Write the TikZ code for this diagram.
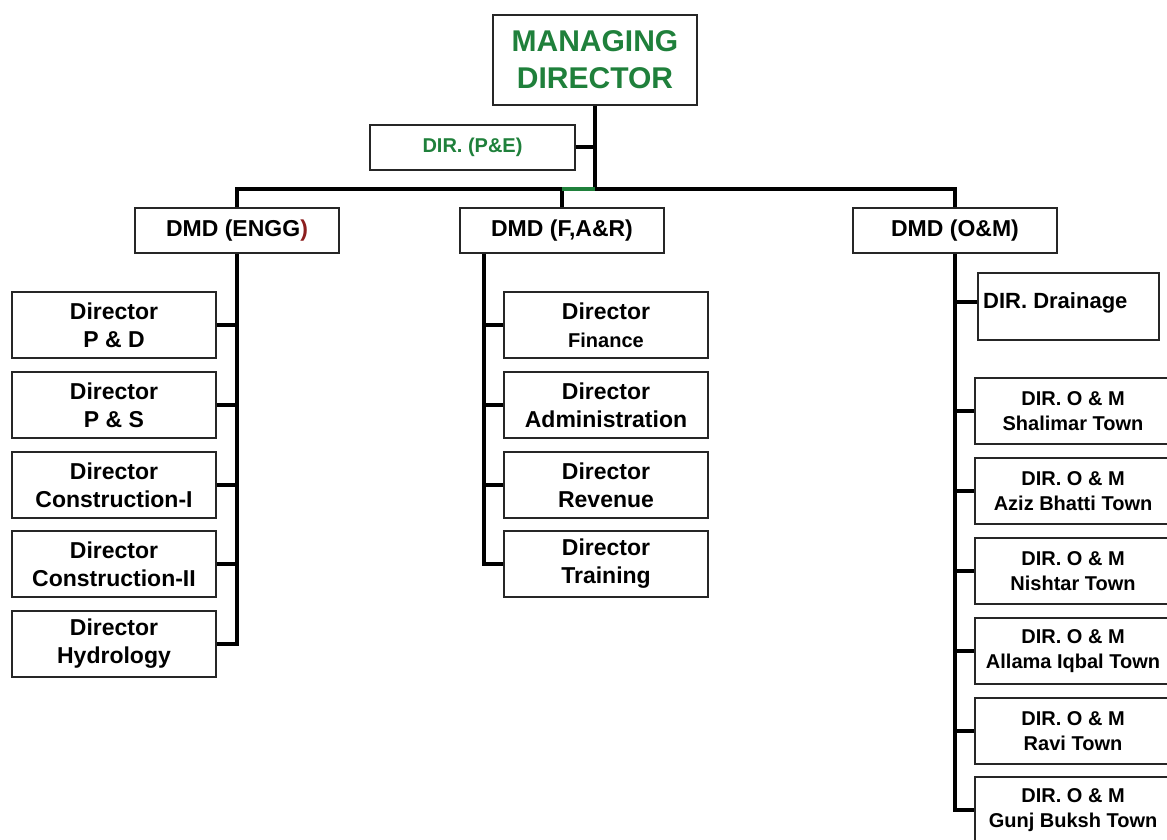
\documentclass[tikz,border=0pt]{standalone}
\usepackage{fontspec}
\setmainfont{Liberation Sans}
\definecolor{mdgreen}{RGB}{31,128,59}
\definecolor{dred}{RGB}{140,30,30}
\begin{document}
\begin{tikzpicture}[x=1pt,y=-1pt,
  box/.style={draw=black!85,line width=1.2pt,inner sep=0pt,align=center,font=\bfseries\fontsize{23}{28}\selectfont},
  lbox/.style={box,minimum width=204pt,minimum height=66pt},
  rbox/.style={box,minimum width=196pt,minimum height=66pt,font=\bfseries\fontsize{20}{25}\selectfont},
  dbox/.style={box,minimum width=204pt,minimum height=45pt},
  conn/.style={line width=4pt,black}]
\useasboundingbox (0,0) rectangle (1167,840);
\clip (0,0) rectangle (1167,840);
% top
\node[box,minimum width=204pt,minimum height=90pt,text=mdgreen,font=\bfseries\fontsize{30}{37}\selectfont] (md) at (595,60) {MANAGING\\DIRECTOR};
\node[box,minimum width=205pt,minimum height=45pt,text=mdgreen,font=\bfseries\fontsize{20}{24}\selectfont] (pe) at (472.5,147.5) {DIR. (P\&E)};
% DMDs
\node[dbox] (engg) at (237,230.5) {DMD (ENGG\textcolor{dred}{)}};
\node[dbox] (far) at (562,230.5) {DMD (F,A\&R)};
\node[dbox] (om) at (955,230.5) {DMD (O\&M)};
% left column
\node[lbox] (e1) at (114,325) {Director\\P \& D};
\node[lbox] (e2) at (114,405) {Director\\P \& S};
\node[lbox] (e3) at (114,485) {Director\\Construction-I};
\node[lbox] (e4) at (114,564) {Director\\Construction-II};
\node[lbox] (e5) at (114,644) {Director\\Hydrology};
% middle column
\node[lbox] (f1) at (606,325) {Director\\{\fontsize{20}{26}\selectfont Finance}};
\node[lbox] (f2) at (606,405) {Director\\Administration};
\node[lbox] (f3) at (606,485) {Director\\Revenue};
\node[lbox] (f4) at (606,564) {Director\\Training};
% right column
\node[box,minimum width=181pt,minimum height=67pt] (dr) at (1068.5,306.5) {};
\node[anchor=base west,inner sep=0pt,font=\bfseries\fontsize{22}{26}\selectfont] (drt) at (983,308) {DIR. Drainage};
\node[rbox] (o1) at (1073,411) {DIR. O \& M\\Shalimar Town};
\node[rbox] (o2) at (1073,491) {DIR. O \& M\\Aziz Bhatti Town};
\node[rbox] (o3) at (1073,571) {DIR. O \& M\\Nishtar Town};
\node[rbox] (o4) at (1073,651) {DIR. O \& M\\Allama Iqbal Town};
\node[rbox] (o5) at (1073,731) {DIR. O \& M\\Ravi Town};
\node[rbox] (o6) at (1073,810) {DIR. O \& M\\Gunj Buksh Town};
% connectors
\coordinate (j) at (595,189);
\draw[conn] (md.south) -- (j);
\draw[conn] (pe.east) -- (pe.east -| md.south);
\draw[conn] (engg.north) |- (j) -| (om.north);
\draw[conn] (far.north) -- (far.north |- j);
\draw[line width=4pt,mdgreen] (far.north |- j) -- (j);
% left
\draw[conn] (engg.south) |- (e5.east);
\foreach \n in {e1,e2,e3,e4} \draw[conn] (\n.east) -- (\n.east -| engg.south);
% middle
\coordinate (fv) at ([xshift=-78pt]far.south);
\draw[conn] (fv) |- (f4.west);
\foreach \n in {f1,f2,f3} \draw[conn] (\n.west) -- (\n.west -| fv);
% right
\draw[conn] (om.south) |- (o6.west);
\foreach \n in {o1,o2,o3,o4,o5} \draw[conn] (\n.west) -- (\n.west -| om.south);
\draw[conn] ([yshift=5pt]dr.west) -- ([yshift=5pt]dr.west -| om.south);
\end{tikzpicture}
\end{document}
